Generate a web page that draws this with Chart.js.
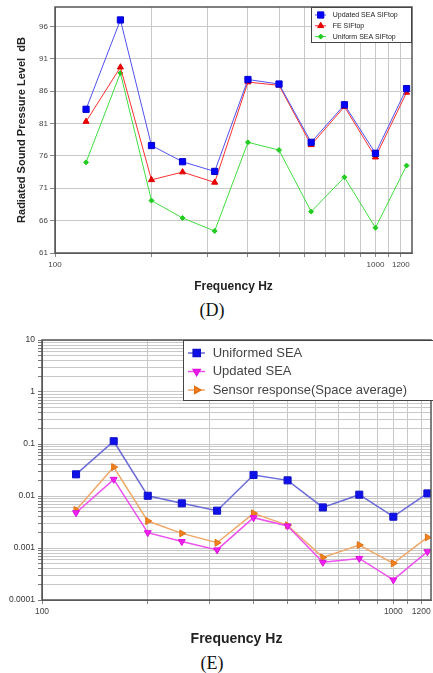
<!DOCTYPE html>
<html>
<head>
<meta charset="utf-8">
<script src="https://cdn.jsdelivr.net/npm/chart.js@4.4.0/dist/chart.umd.min.js"></script>
<style>
  body { margin: 0; background: #fff; }
  #page { position: relative; width: 433px; height: 673px; overflow: hidden; background: #fff; }
  canvas { position: absolute; left: 0; }
  .cap { position: absolute; left: 0; width: 424px; text-align: center;
         font: 18px "Liberation Serif", "Times New Roman", serif; line-height: 20px; color: #111; }
</style>
</head>
<body>
<div id="page">
  <canvas id="chartD" width="433" height="300" style="top:0"></canvas>
  <div class="cap" style="top:300px">(D)</div>
  <!-- a bit wider than the page: Chart.js keeps a few px on the right, the page crops it -->
  <canvas id="chartE" width="437" height="325" style="top:325px"></canvas>
  <div class="cap" style="top:653px">(E)</div>
</div>
<script>
// 1/3 octave band centre frequencies
const freqs = [125, 160, 200, 250, 315, 400, 500, 630, 800, 1000, 1250];
const xTicks = [100, 200, 300, 400, 500, 600, 700, 800, 900, 1000, 1100, 1200];
const xLabels = [100, 1000, 1200];

// (D) radiated sound pressure level, dB
const updatedSeaD = [83.2, 97.0, 77.6, 75.1, 73.6, 87.8, 87.1, 78.1, 83.9, 76.4, 86.4];
const feD = [81.3, 89.7, 72.3, 73.5, 71.9, 87.4, 86.9, 77.7, 83.6, 75.8, 85.8];
const uniformSeaD = [75.0, 88.8, 69.1, 66.4, 64.4, 78.1, 76.9, 67.4, 72.7, 64.9, 74.5];
const yTicksD = [61, 66, 71, 76, 81, 86, 91, 96];

// (E) log scale response
const uniformedSeaE = [0.0261, 0.113, 0.0101, 0.00723, 0.00522, 0.0254, 0.0200, 0.00603, 0.0106, 0.0040, 0.0112];
const updatedSeaE = [0.00477, 0.0209, 0.00197, 0.00133, 0.00092, 0.00383, 0.00265, 0.00053, 0.00063, 0.000243, 0.00085];
const sensorE = [0.00538, 0.036, 0.0033, 0.00191, 0.00126, 0.00465, 0.00273, 0.00066, 0.00114, 0.000507, 0.0016];
const yDecadesE = [0.0001, 0.001, 0.01, 0.1, 1, 10];

Chart.defaults.font.family = '"Liberation Sans", Arial, sans-serif';

const pts = vals => freqs.map((f, i) => ({ x: f, y: vals[i] }));

// minor log ticks 1..9 x decade
const yTicksE = [];
yDecadesE.forEach((d, i) => {
  if (i === yDecadesE.length - 1) { yTicksE.push(d); return; }
  for (let k = 1; k <= 9; k++) yTicksE.push(Number((k * d).toPrecision(3)));
});

// legend drawn inside the plot, boxed
const boxLegend = {
  id: 'boxLegend',
  afterDraw(chart, args, o) {
    const ctx = chart.ctx;
    ctx.save();
    ctx.fillStyle = '#fff';
    ctx.fillRect(o.x, o.y, o.w, o.h);
    ctx.strokeStyle = '#444';
    ctx.lineWidth = 1;
    ctx.strokeRect(o.x + 0.5, o.y + 0.5, o.w - 1, o.h - 1);
    ctx.font = o.font;
    ctx.textBaseline = 'middle';
    chart.data.datasets.forEach((ds, i) => {
      const yy = o.y + o.rowTop + i * o.rowGap;
      ctx.strokeStyle = ds.borderColor;
      ctx.lineWidth = ds.borderWidth;
      ctx.beginPath();
      ctx.moveTo(o.x + o.line0, yy);
      ctx.lineTo(o.x + o.line1, yy);
      ctx.stroke();
      ctx.fillStyle = ds.pointBackgroundColor;
      ctx.strokeStyle = ds.pointBorderColor;
      Chart.helpers.drawPoint(ctx, {
        pointStyle: ds.pointStyle, rotation: ds.pointRotation || 0,
        radius: ds.pointRadius, borderWidth: 1
      }, o.x + o.mark, yy);
      ctx.fillStyle = o.color;
      ctx.fillText(ds.label, o.x + o.text, yy);
    });
    ctx.restore();
  }
};

const frame = {
  id: 'frame',
  afterDatasetsDraw(chart) {
    const { ctx, chartArea: a } = chart;
    ctx.save();
    ctx.strokeStyle = '#555';
    ctx.lineWidth = 1.5;
    ctx.strokeRect(a.left, a.top, a.right - a.left, a.bottom - a.top);
    ctx.restore();
  }
};

const xAxis = (h, max, fontSize, titleSize, titlePad) => ({
  type: 'logarithmic', min: 100, max: max,
  afterBuildTicks: s => { s.ticks = xTicks.map(v => ({ value: v })); },
  afterFit: s => { s.height = h; },
  ticks: {
    autoSkip: false, maxRotation: 0, padding: 3, color: '#444',
    font: { size: fontSize },
    callback: v => xLabels.includes(v) ? String(v) : ''
  },
  grid: { color: '#c8c8c8', tickLength: 4, tickColor: '#888' },
  border: { color: '#666' },
  title: {
    display: true, text: 'Frequency Hz', color: '#222',
    font: { size: titleSize, weight: 'bold' }, padding: { top: 0, bottom: titlePad }
  }
});

new Chart(document.getElementById('chartD'), {
  type: 'line',
  data: {
    datasets: [
      { label: 'Updated SEA SIFtop', data: pts(updatedSeaD), borderColor: '#5050f0', borderWidth: 1,
        pointStyle: 'rect', pointRadius: 4.4, pointBackgroundColor: '#0000ff', pointBorderColor: '#0000cc', pointBorderWidth: 1 },
      { label: 'FE SIFtop', data: pts(feD), borderColor: '#ff3030', borderWidth: 1,
        pointStyle: 'triangle', pointRadius: 3.5, pointBackgroundColor: '#ee0000', pointBorderColor: '#dd0000', pointBorderWidth: 1 },
      { label: 'Uniform SEA SIFtop', data: pts(uniformSeaD), borderColor: '#40dd40', borderWidth: 1,
        pointStyle: 'rectRot', pointRadius: 2.5, pointBackgroundColor: '#20cc20', pointBorderColor: '#20cc20', pointBorderWidth: 1 }
    ]
  },
  options: {
    responsive: false,
    animation: false,
    layout: { padding: { top: 7, right: 21, left: 0, bottom: 0 } },
    plugins: {
      legend: { display: false },
      tooltip: { enabled: false },
      boxLegend: { x: 311, y: 7, w: 101, h: 36, rowTop: 8, rowGap: 10.8,
        line0: 4, line1: 15, mark: 9.7, text: 21.7, font: '7px "Liberation Sans", Arial', color: '#222' }
    },
    scales: {
      x: xAxis(47, 1300, 8, 12, 6),
      y: {
        min: 61, max: 99,
        afterBuildTicks: s => { s.ticks = yTicksD.map(v => ({ value: v })); },
        afterFit: s => { s.width = 55; },
        ticks: { padding: 2, color: '#444', font: { size: 8 } },
        grid: { color: '#c8c8c8', tickLength: 5, tickColor: '#888' },
        border: { color: '#666' },
        title: {
          display: true, text: 'Radiated Sound Pressure Level  dB', color: '#222',
          font: { size: 11, weight: 'bold' }, padding: { top: 15, bottom: 0 }
        }
      }
    }
  },
  plugins: [frame, boxLegend]
});

new Chart(document.getElementById('chartE'), {
  type: 'line',
  data: {
    datasets: [
      { label: 'Uniformed SEA', data: pts(uniformedSeaE), borderColor: '#6a6ad8', borderWidth: 1.5,
        pointStyle: 'rect', pointRadius: 5, pointBackgroundColor: '#1010e8', pointBorderColor: '#1010c8', pointBorderWidth: 1 },
      { label: 'Updated SEA', data: pts(updatedSeaE), borderColor: '#ee50ee', borderWidth: 1.5,
        pointStyle: 'triangle', pointRotation: 180, pointRadius: 4, pointBackgroundColor: '#ee20ee', pointBorderColor: '#dd10dd', pointBorderWidth: 1 },
      { label: 'Sensor response(Space average)', data: pts(sensorE), borderColor: '#f0a868', borderWidth: 1.5,
        pointStyle: 'triangle', pointRotation: 90, pointRadius: 4, pointBackgroundColor: '#f08020', pointBorderColor: '#e07010', pointBorderWidth: 1 }
    ]
  },
  options: {
    responsive: false,
    animation: false,
    layout: { padding: { top: 15, right: 1, left: 0, bottom: 0 } },
    plugins: {
      legend: { display: false },
      tooltip: { enabled: false },
      boxLegend: { x: 183, y: 15, w: 251, h: 61, rowTop: 13, rowGap: 18.5,
        line0: 5, line1: 22, mark: 13.7, text: 29.7, font: '13px "Liberation Sans", Arial', color: '#444' }
    },
    scales: {
      x: xAxis(50, 1280, 8.5, 14, 2.5),
      y: {
        type: 'logarithmic', min: 0.0001, max: 10,
        afterBuildTicks: s => { s.ticks = yTicksE.map(v => ({ value: v })); },
        afterFit: s => { s.width = 42; },
        ticks: {
          autoSkip: false, padding: 3, color: '#333', font: { size: 8.5 },
          callback: v => yDecadesE.includes(v) ? String(v) : ''
        },
        grid: { color: '#c8c8c8', tickLength: 4, tickColor: '#777' },
        border: { color: '#555' }
      }
    }
  },
  plugins: [frame, boxLegend]
});
</script>
</body>
</html>
